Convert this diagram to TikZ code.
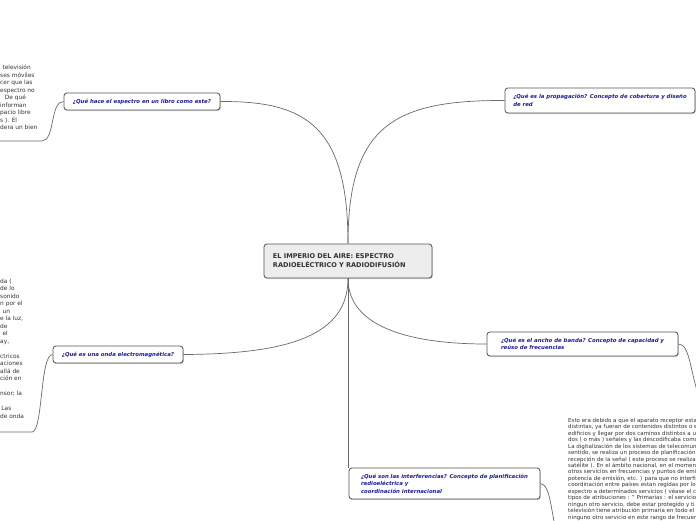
\documentclass[tikz,border=0pt]{standalone}
\usepackage{fontspec}
\setmainfont{DejaVu Sans}
\usepackage{xcolor}
\usetikzlibrary{shadows}
\definecolor{navy}{HTML}{1C1CA0}
\definecolor{ink}{HTML}{333333}
\definecolor{edge}{HTML}{555555}
\definecolor{panel}{HTML}{EDEDED}
\definecolor{wire}{HTML}{6A6A6A}
\tikzset{
  box/.style={draw=edge, rounded corners=2.5pt, line width=.7pt, fill=white,
    drop shadow={shadow xshift=.7pt, shadow yshift=-.9pt, opacity=.35}},
  topic/.style={box, fill=panel, text=ink, align=left, inner xsep=.27cm,
    font=\fontsize{5.6}{7.6}\selectfont\bfseries},
  subtopic/.style={box, text=navy, align=left, inner xsep=.24cm, inner ysep=0pt,
    font=\fontsize{4.6}{6.5}\selectfont\bfseries\itshape},
  note/.style={anchor=north west, inner sep=0pt, align=left, text=ink,
    font=\fontsize{5}{6.4}\selectfont},
  branch/.style={draw=wire, line width=.6pt}
}
\begin{document}
\begin{tikzpicture}[x=0.03cm,y=-0.03cm]
  \useasboundingbox (0,0) rectangle (696,520);
  \clip (0,0) rectangle (696,520);
  \fill[white] (0,0) rectangle (696,520);

  % central topic
  \node[topic,minimum width=5.04cm,minimum height=1.02cm,text width=4.5cm] (imperio) at (348,261)
    {EL IMPERIO DEL AIRE: ESPECTRO\\RADIOELÉCTRICO Y RADIODIFUSIÓN};

  % subtopics
  \node[subtopic,minimum width=4.68cm,minimum height=.51cm] (libro) at (142,101.5)
    {¿Qué hace el espectro en un libro como este?};
  \node[subtopic,minimum width=5.70cm,minimum height=.75cm] (propagacion) at (600,100.5)
    {¿Qué es la propagación? Concepto de cobertura y diseño\\de red};
  \node[subtopic,minimum width=3.90cm,minimum height=.51cm] (onda) at (118,354.5)
    {¿Qué es una onda electromagnética?};
  \node[subtopic,minimum width=5.73cm,minimum height=.72cm] (banda) at (582.5,344)
    {¿Qué es el ancho de banda? Concepto de capacidad y\\reúso de frecuencias};
  \node[subtopic,minimum width=5.73cm,minimum height=.93cm] (interferencia) at (444.5,483.5)
    {¿Qué son las interferencias? Concepto de planificación\\radioeléctrica y\\coordinación internacional};

  % notes
  \node[note] (libronota) at (0,65)
    {\hspace*{2pt}televisión\\ses móviles\\cer que las\\espectro no\\\hspace*{4pt}De qué\\informan\\pacio libre\\s ). El\\dera un bien};
  \node[note] (ondanota) at (0,278.5)
    {da (\\de lo\\sonido\\n por el\\\hspace*{2pt}un\\e la luz,\\de\\\hspace*{2pt}el\\ay,\\\mbox{}\\ctricos\\aciones\\allá de\\ción en\\\mbox{}\\nsor; la\\\mbox{}\\\hspace*{1pt}Las\\de onda};
  \node[note,font=\fontsize{4.7}{5.5}\selectfont] (plannota) at (568,418)
    {Esto era debido a que el aparato receptor esta\\
     distintas, ya fueran de contenidos distintos o e\\
     edificios y llegar por dos caminos distintos a u\\
     dos ( o más ) señales y las descodificaba como\\
     La digitalización de los sistemas de telecomuni\\
     sentido, se realiza un proceso de planificación\\
     recepción de la señal ( este proceso se realiza\\
     satélite ). En el ámbito nacional, en el momen\\
     otros servicios en frecuencias y puntos de emi\\
     potencia de emisión, etc. ) para que no interfi\\
     coordinación entre países estan regidas por lo\\
     espectro a determinados servicios ( véase el c\\
     tipos de atribuciones : " Primarias : el servicio\\
     ningun otro servicio, debe estar protegido y ti\\
     televisión tiene atribución primaria en todo el\\
     ninguno otro servicio en este rango de frecuen};

  \coordinate (librofoot) at (42,141);
  \coordinate (libroedge) at (0,141);
  \coordinate (ondafoot) at (32,432);
  \coordinate (ondaedge) at (0,432);
  \coordinate (bandafoot) at (700,400);
  \coordinate (interfoot) at (556,530);

  % branches
  \draw[branch] (imperio.north) .. controls (348,125) and (305,101) .. (libro.east);
  \draw[branch] (imperio.north) .. controls (348,125) and (395,100) .. (propagacion.west);
  \draw[branch] (imperio.south) .. controls (348,335) and (290,354) .. (onda.east);
  \draw[branch] (imperio.south) .. controls (348,325) and (405,344) .. (banda.west);
  \draw[branch] (imperio.south) -- (imperio.south |- interferencia.north);
  \draw[branch] (libro.west) .. controls (50,101) and (55,141) .. (librofoot) -- (libroedge);
  \draw[branch] (onda.west) .. controls (40,354) and (43,432) .. (ondafoot) -- (ondaedge);
  \draw[branch] (banda.east) .. controls (690,344) and (690,372) .. (bandafoot);
  \draw[branch] (interferencia.east) .. controls (550,485) and (550,505) .. (interfoot);
\end{tikzpicture}
\end{document}
